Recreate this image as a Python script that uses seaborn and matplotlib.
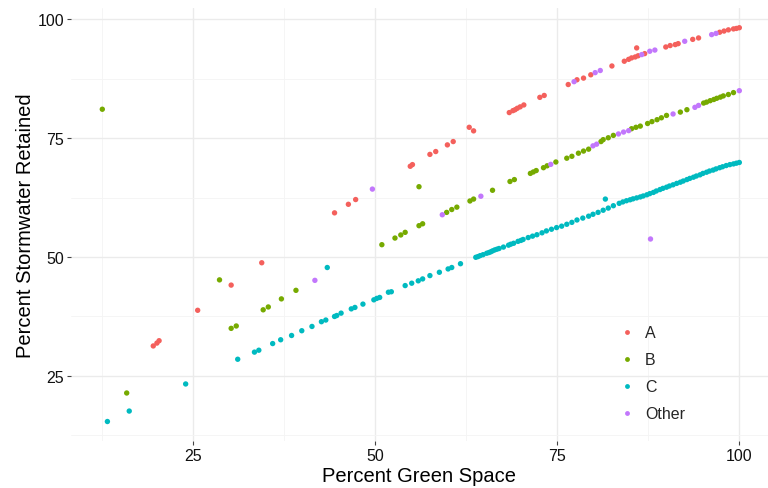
import pandas as pd
import seaborn as sns
import matplotlib.pyplot as plt

# values
a_x = [19.5, 20.0, 20.3, 25.6, 30.2, 34.4, 44.4, 46.3, 47.3, 54.8, 55.1, 57.5, 58.3, 59.9, 60.7,
       62.9, 63.5, 68.4, 68.9, 69.2, 69.5, 69.9, 70.4, 72.6, 73.2, 76.5, 77.7, 78.6, 79.6, 82.5,
       84.2, 84.8, 85.2, 85.7, 86.1, 85.9, 87.0, 89.9, 90.5, 91.2, 91.6, 93.6, 94.4, 97.3, 97.9,
       98.5, 99.2, 99.6, 100.0]
a_y = [31.3, 31.9, 32.4, 38.8, 44.1, 48.8, 59.3, 61.1, 62.1, 69.1, 69.45, 71.6, 72.2, 73.6, 74.3,
       77.3, 76.55, 80.4, 80.8, 81.0, 81.3, 81.6, 82.0, 83.6, 84.0, 86.3, 87.3, 87.65, 88.35, 90.2,
       91.2, 91.6, 91.9, 92.1, 92.35, 94.0, 92.8, 94.2, 94.5, 94.7, 94.9, 95.8, 96.1, 97.3, 97.55,
       97.8, 98.0, 98.1, 98.25]

b_x = [12.5, 15.85, 28.6, 30.2, 30.9, 34.6, 35.3, 37.1, 39.1, 50.9, 52.7, 53.5, 54.1, 56.0, 56.5,
       56.0, 59.8, 60.5, 61.2, 63.0, 63.5, 66.1, 68.5, 69.1, 71.3, 71.7, 72.1, 73.1, 73.6, 74.8,
       76.3, 77.0, 77.9, 78.6, 79.3, 81.0, 81.3, 82.0, 82.7, 85.2, 85.8, 86.4, 87.4, 88.0, 88.7,
       89.3, 90.0, 91.9, 92.8, 95.1, 95.5, 96.0, 96.5, 96.9, 97.4, 97.8, 98.5, 99.2]
b_y = [81.1, 21.4, 45.2, 35.0, 35.5, 38.9, 39.5, 41.2, 43.0, 52.6, 54.0, 54.65, 55.2, 56.6, 57.0,
       64.8, 59.4, 60.0, 60.5, 61.8, 62.2, 64.05, 65.9, 66.3, 67.6, 67.9, 68.2, 68.8, 69.2, 70.0,
       70.8, 71.2, 71.85, 72.3, 72.7, 74.3, 74.7, 75.1, 75.6, 77.0, 77.3, 77.55, 78.1, 78.5, 78.9,
       79.3, 79.8, 80.5, 81.0, 82.4, 82.6, 82.9, 83.15, 83.4, 83.65, 83.9, 84.2, 84.6]

c_x = [13.2, 16.2, 23.95, 31.1, 33.4, 34.0, 35.9, 37.0, 38.5, 39.9, 41.3, 42.6, 43.2, 43.4, 44.4,
       44.7, 45.3, 46.7, 47.2, 48.3, 49.8, 50.2, 50.6, 51.8, 52.2, 54.1, 55.0, 55.9, 56.5, 57.5,
       58.8, 60.0, 60.5, 61.7, 63.8, 64.1, 64.4, 64.8, 65.3, 65.6, 65.85, 66.1, 66.4, 66.7, 67.0,
       67.6, 68.3, 68.6, 69.0, 69.6, 70.0, 70.3, 71.0, 71.6, 72.2, 72.9, 73.5, 74.2, 74.9, 75.6,
       76.3, 77.0, 77.7, 78.5, 79.3, 79.9, 80.6, 81.3, 82.0, 82.7, 83.5, 84.0, 84.5, 85.0, 85.4,
       85.9, 86.4, 86.8, 87.3, 87.7, 88.2, 88.6, 89.1, 89.5, 90.0, 90.4, 90.9, 91.4, 91.9, 92.3,
       92.8, 93.2, 93.7, 94.1, 94.6, 95.0, 95.5, 95.9, 96.4, 96.8, 97.3, 97.7, 98.2, 98.7, 99.2,
       99.6, 100.0, 81.6]
c_y = [15.4, 17.6, 23.3, 28.5, 30.0, 30.4, 31.8, 32.6, 33.5, 34.5, 35.4, 36.4, 36.75, 47.8, 37.5,
       37.7, 38.2, 39.1, 39.4, 40.1, 41.0, 41.3, 41.5, 42.6, 42.7, 44.0, 44.5, 45.0, 45.4, 46.1,
       46.8, 47.5, 47.8, 48.6, 49.95, 50.1, 50.3, 50.5, 50.8, 50.95, 51.1, 51.3, 51.5, 51.65, 51.8,
       52.1, 52.5, 52.7, 52.9, 53.3, 53.5, 53.7, 54.1, 54.4, 54.7, 55.1, 55.5, 55.85, 56.2, 56.5,
       56.9, 57.3, 57.8, 58.2, 58.6, 59.0, 59.4, 59.85, 60.3, 60.8, 61.3, 61.6, 61.85, 62.05, 62.25,
       62.45, 62.65, 62.85, 63.1, 63.35, 63.6, 63.9, 64.2, 64.45, 64.7, 64.95, 65.2, 65.5, 65.75, 66.0,
       66.3, 66.55, 66.8, 67.05, 67.3, 67.6, 67.85, 68.1, 68.3, 68.55, 68.8, 69.0, 69.25, 69.45, 69.6,
       69.75, 69.9, 62.2]

o_x = [41.7, 49.6, 59.2, 64.5, 74.1, 79.9, 80.4, 83.4, 84.1, 84.8, 90.9, 93.9, 94.4, 100.0,
       77.3, 80.2, 80.9, 86.6, 87.7, 88.4, 92.5, 96.2, 96.8, 87.8]
o_y = [45.1, 64.3, 58.9, 62.8, 69.5, 73.4, 73.75, 75.9, 76.3, 76.6, 80.1, 81.5, 81.9, 85.0,
       86.9, 88.8, 89.25, 92.6, 93.3, 93.55, 95.4, 96.8, 97.05, 53.8]

groups = ['A', 'B', 'C', 'Other']
colors = ['#F4605C', '#76AA00', '#00BAC0', '#C277FC']

df = pd.concat([
    pd.DataFrame({'green': a_x, 'storm': a_y, 'grp': 'A'}),
    pd.DataFrame({'green': b_x, 'storm': b_y, 'grp': 'B'}),
    pd.DataFrame({'green': c_x, 'storm': c_y, 'grp': 'C'}),
    pd.DataFrame({'green': o_x, 'storm': o_y, 'grp': 'Other'}),
])

sns.set_style('white')
plt.rcParams['font.family'] = ['Liberation Sans', 'DejaVu Sans']

fig = plt.figure(figsize=(7.68, 4.89), dpi=100)
ax = fig.add_axes([71 / 768, 1 - 442 / 489, 697 / 768, 433 / 489])

sns.scatterplot(data=df, x='green', y='storm', hue='grp', hue_order=groups,
                palette=colors, s=15, linewidth=0, ax=ax)

ax.set_xlim(8.2, 103.94)
ax.set_ylim(11.3, 102.4)
ax.set_xticks([25, 50, 75, 100])
ax.set_yticks([25, 50, 75, 100])
ax.set_xticks([12.5, 37.5, 62.5, 87.5], minor=True)
ax.set_yticks([12.5, 37.5, 62.5, 87.5], minor=True)
ax.grid(which='major', color='#EBEBEB', linewidth=1.0)
ax.grid(which='minor', color='#F4F4F4', linewidth=0.6)
ax.tick_params(which='major', bottom=True, left=True, length=3, width=0.8, color='#444444',
               labelsize=11.5, labelcolor='#111111', pad=2)
ax.tick_params(which='minor', length=0)
for s in ax.spines.values():
    s.set_visible(False)
ax.set_axisbelow(True)

ax.set_xlabel('Percent Green Space', fontsize=14.5, color='black', labelpad=2)
ax.set_ylabel('Percent Stormwater Retained', fontsize=14.5, color='black', labelpad=2)

leg = ax.legend(loc='upper left', bbox_to_anchor=(597 / 768, 1 - 312 / 489),
                bbox_transform=fig.transFigure, frameon=False, title=None,
                fontsize=11.5, labelspacing=0.75, handletextpad=0.1, markerscale=0.9)

fig.savefig('out.png', dpi=100)
